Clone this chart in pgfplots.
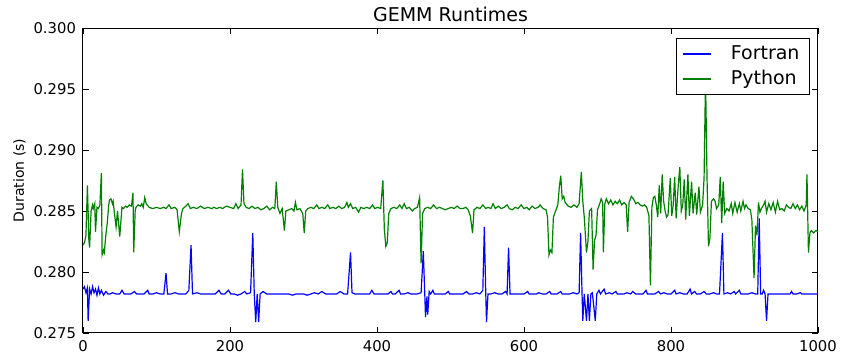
\documentclass[border=0pt]{standalone}
\usepackage{fontspec}
\setmainfont{DejaVu Sans}
\usepackage{pgfplots}
\pgfplotsset{compat=1.18}
\definecolor{mplblue}{rgb}{0,0,1}
\definecolor{mplgreen}{rgb}{0,0.5,0}
\begin{document}
\begin{tikzpicture}
\begin{axis}[name=ax, scale only axis, width=367.5pt, height=152.5pt,
  xmin=0, xmax=1000, ymin=0.275, ymax=0.300,
  xtick={0,200,400,600,800,1000},
  ytick={0.275,0.280,0.285,0.290,0.295,0.300},
  scaled y ticks=false,
  xticklabel style={/pgf/number format/.cd,set thousands separator={}},
  yticklabel style={/pgf/number format/.cd,fixed,fixed zerofill,precision=3},
  /pgf/number format/assume math mode=true,
  tick align=inside, major tick length=3pt,
  tick style={black, line width=0.4pt},
  axis line style={line width=0.5pt},
  font=\fontsize{7.4}{9}\selectfont,
  tick label style={font=\fontsize{7.4}{9}\selectfont},
  title={GEMM Runtimes},
  title style={font=\fontsize{9.5}{11}\selectfont, yshift=-6.5pt},
  ylabel={Duration (s)},
  ylabel style={font=\fontsize{7}{8}\selectfont, yshift=-3pt},
  legend style={at={(1,1)}, xshift=-4pt, yshift=-5pt, anchor=north east,
    draw=black, line width=0.5pt, font=\fontsize{9.5}{11}\selectfont,
    inner xsep=3pt, inner ysep=1.5pt, row sep=0pt,
    /tikz/every odd column/.append style={column sep=7.5pt}},
  legend cell align=left,
  legend image code/.code={\draw[#1, line width=0.6pt] (0pt,0pt) -- (14pt,0pt);},
  every axis plot/.append style={line width=0.6pt},
]
\addplot[mplblue] coordinates {
(0,0.2786) (2,0.2788) (4,0.2783) (6,0.2787) (7,0.2760) (9,0.2786) (11,0.2782) (13,0.2788) (15,0.2783) (17,0.2786)
(19,0.2781) (21,0.2787) (23,0.2782) (25,0.2785) (28,0.2781) (31,0.2784) (34,0.2782) (37,0.2782) (40,0.2783) (45,0.2782)
(50,0.2782) (53,0.2785) (56,0.2782) (60,0.2782) (65,0.2782) (70,0.2784) (73,0.2782) (78,0.2782) (83,0.2782) (88,0.2785)
(90,0.2782) (95,0.2782) (100,0.2783) (105,0.2782) (110,0.2782) (113,0.2799) (115,0.2782) (120,0.2782) (125,0.2783) (130,0.2782)
(135,0.2782) (140,0.2782) (144,0.2785) (147,0.2822) (149,0.2782) (155,0.2783) (160,0.2782) (165,0.2782) (170,0.2782) (175,0.2782)
(180,0.2782) (185,0.2785) (188,0.2782) (193,0.2782) (198,0.2785) (201,0.2782) (206,0.2782) (210,0.2781) (215,0.2782) (220,0.2784)
(223,0.2782) (228,0.2783) (231,0.2832) (233,0.2782) (235,0.2759) (237,0.2782) (239,0.2759) (241,0.2782) (245,0.2784) (250,0.2782)
(255,0.2782) (260,0.2782) (265,0.2782) (270,0.2782) (275,0.2782) (280,0.2782) (285,0.2781) (290,0.2782) (295,0.2782) (300,0.2782)
(305,0.2781) (310,0.2782) (315,0.2783) (320,0.2782) (325,0.2784) (330,0.2782) (335,0.2782) (340,0.2782) (345,0.2782) (350,0.2784)
(355,0.2782) (360,0.2782) (364,0.2816) (366,0.2783) (370,0.2782) (375,0.2782) (380,0.2782) (385,0.2782) (390,0.2782) (393,0.2785)
(396,0.2782) (400,0.2782) (405,0.2782) (410,0.2782) (415,0.2782) (419,0.2784) (421,0.2782) (425,0.2782) (430,0.2785) (432,0.2782)
(437,0.2782) (442,0.2783) (446,0.2782) (450,0.2782) (455,0.2782) (460,0.2783) (463,0.2817) (465,0.2782) (466,0.2763) (468,0.2780)
(469,0.2765) (471,0.2784) (473,0.2782) (476,0.2785) (478,0.2782) (483,0.2782) (488,0.2782) (493,0.2782) (497,0.2784) (499,0.2782)
(504,0.2782) (508,0.2782) (512,0.2782) (517,0.2782) (522,0.2784) (525,0.2782) (530,0.2782) (535,0.2783) (540,0.2782) (544,0.2785)
(546,0.2837) (548,0.2782) (549,0.2759) (551,0.2782) (555,0.2782) (560,0.2783) (565,0.2782) (570,0.2782) (575,0.2784) (577,0.2782)
(579,0.2820) (581,0.2782) (585,0.2782) (590,0.2782) (595,0.2782) (600,0.2782) (605,0.2784) (607,0.2782) (612,0.2782) (617,0.2782)
(620,0.2783) (625,0.2782) (630,0.2782) (635,0.2784) (637,0.2782) (640,0.2782) (645,0.2782) (650,0.2784) (652,0.2782) (657,0.2782)
(662,0.2782) (667,0.2783) (672,0.2782) (675,0.2783) (677,0.2832) (679,0.2782) (680,0.2760) (682,0.2782) (685,0.2760) (687,0.2782)
(689,0.2760) (691,0.2782) (693,0.2783) (697,0.2760) (699,0.2782) (702,0.2785) (704,0.2782) (709,0.2786) (711,0.2782) (716,0.2783)
(720,0.2782) (725,0.2784) (727,0.2782) (732,0.2782) (736,0.2782) (740,0.2783) (745,0.2782) (748,0.2784) (752,0.2782) (757,0.2782)
(762,0.2782) (766,0.2785) (768,0.2782) (773,0.2782) (778,0.2782) (783,0.2784) (786,0.2782) (790,0.2783) (795,0.2782) (800,0.2782)
(805,0.2785) (807,0.2782) (812,0.2783) (817,0.2782) (822,0.2782) (826,0.2786) (828,0.2782) (832,0.2784) (835,0.2782) (840,0.2782)
(845,0.2784) (848,0.2782) (853,0.2782) (858,0.2783) (862,0.2782) (866,0.2782) (870,0.2832) (872,0.2782) (877,0.2783) (881,0.2782)
(886,0.2784) (888,0.2782) (893,0.2785) (895,0.2782) (900,0.2782) (905,0.2782) (910,0.2783) (915,0.2782) (918,0.2782) (920,0.2844)
(922,0.2782) (924,0.2782) (926,0.2785) (928,0.2782) (930,0.2760) (932,0.2782) (937,0.2782) (942,0.2782) (947,0.2782) (952,0.2782)
(957,0.2782) (962,0.2782) (964,0.2784) (966,0.2782) (971,0.2782) (976,0.2783) (978,0.2782) (983,0.2782) (988,0.2782) (993,0.2782)
(1000,0.2782)
};
\addlegendentry{Fortran}
\addplot[mplgreen] coordinates {
(0,0.2822) (2,0.2824) (4,0.2830) (6,0.2871) (8,0.2826) (9,0.2820) (11,0.2850) (13,0.2855) (14,0.2852) (16,0.2856)
(17,0.2833) (19,0.2853) (21,0.2852) (23,0.2855) (25,0.2881) (26,0.2814) (28,0.2818) (29,0.2816) (31,0.2830) (33,0.2840)
(35,0.2855) (36,0.2859) (38,0.2860) (40,0.2856) (41,0.2858) (43,0.2847) (45,0.2837) (47,0.2850) (50,0.2829) (53,0.2853)
(55,0.2852) (58,0.2854) (60,0.2853) (63,0.2855) (66,0.2854) (68,0.2865) (69,0.2816) (71,0.2850) (72,0.2853) (75,0.2855)
(78,0.2854) (80,0.2856) (82,0.2853) (84,0.2861) (86,0.2856) (90,0.2853) (95,0.2852) (100,0.2853) (105,0.2852) (110,0.2853)
(113,0.2852) (117,0.2855) (120,0.2852) (125,0.2853) (128,0.2851) (131,0.2833) (134,0.2848) (136,0.2852) (140,0.2854) (143,0.2856)
(146,0.2852) (150,0.2853) (155,0.2852) (160,0.2854) (165,0.2852) (170,0.2853) (175,0.2852) (178,0.2853) (182,0.2852) (186,0.2853)
(190,0.2852) (195,0.2854) (200,0.2853) (205,0.2852) (208,0.2856) (211,0.2852) (215,0.2855) (217,0.2884) (219,0.2856) (222,0.2853)
(226,0.2852) (230,0.2854) (234,0.2852) (238,0.2853) (242,0.2851) (246,0.2852) (250,0.2854) (254,0.2851) (258,0.2853) (261,0.2852)
(263,0.2874) (265,0.2853) (268,0.2848) (271,0.2852) (274,0.2834) (276,0.2850) (280,0.2851) (284,0.2852) (287,0.2850) (289,0.2857)
(291,0.2851) (295,0.2852) (299,0.2848) (301,0.2832) (303,0.2850) (306,0.2852) (310,0.2853) (314,0.2852) (318,0.2855) (321,0.2852)
(325,0.2853) (329,0.2852) (333,0.2855) (336,0.2852) (340,0.2853) (344,0.2852) (348,0.2854) (352,0.2852) (356,0.2853) (359,0.2857)
(361,0.2853) (364,0.2856) (367,0.2852) (371,0.2853) (375,0.2849) (378,0.2853) (382,0.2852) (386,0.2853) (390,0.2852) (394,0.2855)
(397,0.2852) (401,0.2853) (405,0.2852) (408,0.2875) (410,0.2835) (412,0.2821) (414,0.2824) (416,0.2848) (419,0.2852) (423,0.2853)
(427,0.2852) (431,0.2855) (434,0.2852) (437,0.2856) (440,0.2852) (444,0.2853) (448,0.2850) (451,0.2852) (455,0.2853) (458,0.2861)
(460,0.2807) (462,0.2848) (465,0.2852) (469,0.2853) (473,0.2852) (477,0.2855) (481,0.2852) (485,0.2853) (489,0.2852) (493,0.2851)
(497,0.2852) (501,0.2853) (505,0.2852) (509,0.2854) (513,0.2852) (517,0.2852) (521,0.2853) (524,0.2851) (527,0.2846) (530,0.2832)
(532,0.2851) (536,0.2853) (540,0.2852) (544,0.2855) (548,0.2852) (551,0.2853) (555,0.2852) (558,0.2856) (561,0.2852) (565,0.2854)
(569,0.2852) (573,0.2853) (577,0.2855) (580,0.2852) (584,0.2851) (588,0.2853) (592,0.2852) (596,0.2855) (600,0.2852) (604,0.2853)
(607,0.2851) (611,0.2854) (615,0.2852) (619,0.2853) (622,0.2855) (626,0.2852) (630,0.2851) (632,0.2845) (634,0.2814) (636,0.2818)
(638,0.2816) (640,0.2845) (643,0.2850) (646,0.2855) (648,0.2869) (650,0.2879) (652,0.2860) (654,0.2862) (656,0.2857) (660,0.2854)
(664,0.2853) (668,0.2855) (672,0.2853) (675,0.2856) (678,0.2882) (680,0.2858) (682,0.2845) (685,0.2816) (687,0.2825) (689,0.2850)
(692,0.2852) (694,0.2802) (696,0.2826) (698,0.2830) (700,0.2851) (703,0.2856) (705,0.2860) (707,0.2857) (708,0.2816) (710,0.2856)
(712,0.2860) (715,0.2856) (718,0.2859) (721,0.2855) (724,0.2858) (727,0.2856) (730,0.2859) (733,0.2855) (736,0.2857) (739,0.2855)
(741,0.2833) (743,0.2857) (746,0.2862) (749,0.2860) (752,0.2856) (755,0.2857) (758,0.2855) (761,0.2854) (764,0.2855) (767,0.2853)
(770,0.2846) (772,0.2789) (774,0.2853) (776,0.2861) (778,0.2862) (780,0.2855) (782,0.2845) (784,0.2871) (786,0.2848) (788,0.2880)
(790,0.2858) (792,0.2850) (794,0.2845) (796,0.2847) (799,0.2877) (801,0.2846) (803,0.2855) (805,0.2878) (807,0.2844) (810,0.2872)
(812,0.2886) (814,0.2850) (816,0.2855) (818,0.2876) (820,0.2843) (823,0.2880) (825,0.2846) (828,0.2874) (830,0.2848) (833,0.2865)
(835,0.2847) (838,0.2870) (840,0.2849) (843,0.2855) (845,0.2877) (847,0.2960) (849,0.2878) (851,0.2821) (853,0.2828) (855,0.2858)
(858,0.2860) (860,0.2858) (862,0.2852) (865,0.2855) (867,0.2878) (869,0.2840) (871,0.2874) (873,0.2848) (876,0.2852) (879,0.2850)
(882,0.2856) (884,0.2848) (887,0.2857) (890,0.2849) (893,0.2856) (895,0.2850) (898,0.2858) (900,0.2852) (902,0.2855) (905,0.2852)
(908,0.2851) (910,0.2843) (913,0.2795) (915,0.2838) (917,0.2830) (919,0.2857) (921,0.2849) (923,0.2852) (926,0.2855) (928,0.2858)
(930,0.2849) (933,0.2856) (936,0.2851) (939,0.2857) (942,0.2849) (945,0.2858) (948,0.2851) (951,0.2852) (954,0.2850) (957,0.2855)
(960,0.2853) (963,0.2852) (966,0.2856) (969,0.2852) (972,0.2855) (975,0.2851) (978,0.2854) (981,0.2850) (984,0.2855) (985,0.2880)
(987,0.2816) (989,0.2832) (991,0.2834) (994,0.2832) (997,0.2834) (1000,0.2833)
};
\addlegendentry{Python}
\end{axis}
\pgfresetboundingbox
\path ([xshift=-41.5pt,yshift=-10.5pt]ax.south west) rectangle ([xshift=12pt,yshift=14pt]ax.north east);
\end{tikzpicture}
\end{document}
